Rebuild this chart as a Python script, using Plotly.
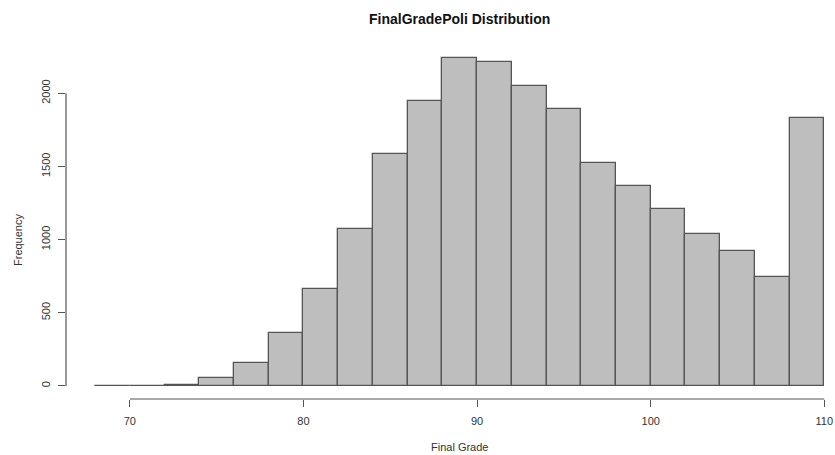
import plotly.graph_objects as go

# Histogram data (bin width 2, from 68 to 110)
bin_edges = [68, 70, 72, 74, 76, 78, 80, 82, 84, 86, 88, 90, 92, 94, 96, 98, 100, 102, 104, 106, 108, 110]
counts = [2, 1, 5, 53, 158, 363, 663, 1074, 1582, 1944, 2240, 2214, 2050, 1893, 1526, 1365, 1208, 1036, 921, 747, 1830]
x_ticks = [70, 80, 90, 100, 110]
y_ticks = [0, 500, 1000, 1500, 2000]

title_text = "FinalGradePoli Distribution"
x_label = "Final Grade"
y_label = "Frequency"

centers = [(a + b) / 2 for a, b in zip(bin_edges[:-1], bin_edges[1:])]
widths = [b - a for a, b in zip(bin_edges[:-1], bin_edges[1:])]

W, H = 835, 455
ml, mr, mt, mb = 66, 0, 45, 56
FONT = "Liberation Sans, Arial, Helvetica, sans-serif"

fig = go.Figure(go.Bar(
    x=centers, y=counts, width=widths,
    marker=dict(color="#bebebe", line=dict(color="#555555", width=1.3)),
    hoverinfo="x+y",
))

# R-style axis extents (4% padding)
xmin, xmax = bin_edges[0], bin_edges[-1]
xpad = 0.04 * (xmax - xmin)
ymax = max(counts)
ypad = 0.04 * ymax
plot_w = W - ml - mr
plot_h = H - mt - mb
px_per_unit = 17.36
x_lo = xmin - xpad
x_hi = x_lo + plot_w / px_per_unit

fig.update_layout(
    width=W, height=H,
    margin=dict(l=ml, r=mr, t=mt, b=mb, pad=0, autoexpand=False),
    plot_bgcolor="white", paper_bgcolor="white",
    font=dict(family=FONT, size=11, color="#333333"),
    showlegend=False,
    bargap=0,
    xaxis=dict(
        range=[x_lo, x_hi], tickvals=x_ticks, ticktext=[str(v) for v in x_ticks],
        ticks="outside", ticklen=7, tickwidth=1, tickcolor="#555555",
        ticklabelstandoff=5,
        showgrid=False, zeroline=False, showline=False, automargin=False,
        tickfont=dict(size=11, color="#333333"),
    ),
    yaxis=dict(
        range=[-ypad, ymax + ypad], tickvals=y_ticks, ticktext=[str(v) for v in y_ticks],
        ticks="outside", ticklen=7, tickwidth=1, tickcolor="#555555", tickangle=-90,
        ticklabelstandoff=4,
        showgrid=False, zeroline=False, showline=False, automargin=False,
        tickfont=dict(size=11, color="#333333"),
    ),
    shapes=[
        dict(type="line", xref="x", yref="paper", x0=min(x_ticks), x1=max(x_ticks), y0=0, y1=0,
             line=dict(color="#555555", width=1.2)),
        dict(type="line", xref="paper", yref="y", x0=0, x1=0, y0=min(y_ticks), y1=max(y_ticks),
             line=dict(color="#555555", width=1.2)),
    ],
    annotations=[
        dict(text="<b>" + title_text + "</b>", xref="paper", yref="paper",
             x=(459 - ml) / plot_w, y=1 + (mt - 19) / plot_h,
             xanchor="center", yanchor="middle", showarrow=False,
             font=dict(size=14, color="#111111", family=FONT)),
        dict(text=x_label, xref="paper", yref="paper",
             x=(459 - ml) / plot_w, y=-(447 - (H - mb)) / plot_h,
             xanchor="center", yanchor="middle", showarrow=False,
             font=dict(size=11, color="#333333", family=FONT)),
        dict(text=y_label, xref="paper", yref="paper", textangle=-90,
             x=-(ml - 18) / plot_w, y=1 - (240 - mt) / plot_h,
             xanchor="center", yanchor="middle", showarrow=False,
             font=dict(size=11, color="#333333", family=FONT)),
    ],
)

fig.write_html("out.html", config={"displayModeBar": False},
               post_script="document.body.style.margin='0';document.body.style.overflow='hidden';")
